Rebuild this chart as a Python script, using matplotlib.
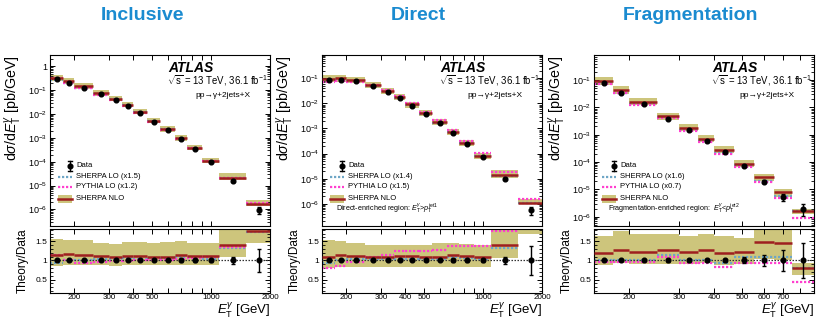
import numpy as np
import matplotlib
matplotlib.use("Agg")
import matplotlib.pyplot as plt
from matplotlib.ticker import FixedLocator, NullFormatter, FuncFormatter, LogLocator, MultipleLocator

plt.rcParams['font.family'] = ['Liberation Sans', 'DejaVu Sans']
plt.rcParams['mathtext.fontset'] = 'custom'
plt.rcParams['mathtext.rm'] = 'Liberation Sans'
plt.rcParams['mathtext.it'] = 'Liberation Sans:italic'
plt.rcParams['mathtext.bf'] = 'Liberation Sans:bold'
plt.rcParams['mathtext.sf'] = 'Liberation Sans'

# ---------------- data ----------------
edges_main = [150, 175, 200, 250, 300, 350, 400, 470, 550, 650, 750, 900, 1100, 1500, 2000]
edges_frag = [150, 175, 200, 250, 300, 350, 400, 470, 550, 650, 750, 900]

# Inclusive
incl_data = [0.29, 0.204, 0.127, 0.0678, 0.0394, 0.0222, 0.0111, 0.00485, 0.00212, 8.7e-4, 3.4e-4, 1.0e-4, 1.5e-5, 9.5e-7]
incl_err = [0.02, 0.02, 0.02, 0.02, 0.02, 0.02, 0.02, 0.02, 0.02, 0.03, 0.03, 0.05, 0.10, 0.31]
incl_nlo = [1.13, 1.16, 1.15, 1.12, 1.09, 1.12, 1.12, 1.10, 1.10, 1.15, 1.12, 1.11, 1.39, 1.78]
incl_nlo_up = [1.56, 1.54, 1.52, 1.46, 1.43, 1.48, 1.48, 1.46, 1.48, 1.50, 1.46, 1.46, 2.30, 2.60]
incl_nlo_dn = [0.86, 0.87, 0.87, 0.87, 0.86, 0.87, 0.87, 0.87, 0.87, 0.87, 0.87, 0.87, 1.10, 1.45]
incl_sherpa_lo = [0.93, 1.00, 1.02, 1.05, 1.04, 1.06, 1.05, 1.05, 1.06, 1.08, 1.06, 1.05, 1.33, 1.73]
incl_pythia_lo = [1.14, 1.02, 0.93, 0.97, 0.98, 0.98, 1.00, 1.00, 1.02, 1.05, 1.06, 1.10, 1.36, 1.90]

# Direct
dir_data = [0.0887, 0.0887, 0.0757, 0.049, 0.0291, 0.0161, 0.00815, 0.00377, 0.00164, 6.46e-4, 2.4e-4, 7.4e-5, 1.0e-5, 5.6e-7]
dir_err = [0.02, 0.02, 0.02, 0.02, 0.02, 0.02, 0.02, 0.02, 0.02, 0.03, 0.03, 0.04, 0.10, 0.37]
dir_nlo = [1.10, 1.13, 1.12, 1.10, 1.09, 1.12, 1.12, 1.09, 1.10, 1.15, 1.12, 1.10, 1.39, 2.00]
dir_nlo_up = [1.52, 1.50, 1.46, 1.41, 1.39, 1.41, 1.41, 1.39, 1.46, 1.46, 1.43, 1.41, 2.30, 2.80]
dir_nlo_dn = [0.80, 0.82, 0.83, 0.84, 0.84, 0.84, 0.84, 0.84, 0.84, 0.84, 0.84, 0.84, 1.06, 1.68]
dir_sherpa_lo = [0.93, 1.02, 1.03, 1.04, 1.03, 1.05, 1.05, 1.04, 1.05, 1.08, 1.06, 1.05, 1.32, 1.85]
dir_pythia_lo = [0.80, 0.86, 0.95, 1.10, 1.15, 1.24, 1.24, 1.25, 1.28, 1.37, 1.37, 1.37, 1.78, 2.70]

# Fragmentation
frag_data = [0.0767, 0.0335, 0.0131, 0.00379, 0.00144, 5.65e-4, 2.33e-4, 7.3e-5, 1.94e-5, 5.3e-6, 2.0e-6]
frag_err = [0.02, 0.02, 0.02, 0.03, 0.03, 0.03, 0.05, 0.08, 0.15, 0.28, 0.45]
frag_nlo = [1.19, 1.28, 1.23, 1.26, 1.23, 1.28, 1.19, 1.21, 1.47, 1.46, 0.80]
frag_nlo_up = [1.63, 1.76, 1.68, 1.68, 1.65, 1.70, 1.63, 1.59, 1.95, 1.95, 0.93]
frag_nlo_dn = [0.89, 0.93, 0.91, 0.91, 0.91, 0.93, 0.89, 0.91, 1.04, 1.02, 0.62]
frag_sherpa_lo = [1.02, 1.02, 1.00, 1.15, 1.02, 1.00, 0.93, 1.10, 1.09, 1.10, 0.80]
frag_pythia_lo = [0.97, 0.97, 0.95, 1.10, 0.93, 0.93, 0.84, 0.93, 0.93, 0.93, 0.45]

titles = ["Inclusive", "Direct", "Fragmentation"]
sherpa_labels = ["SHERPA LO (x1.5)", "SHERPA LO (x1.4)", "SHERPA LO (x1.6)"]
pythia_labels = ["PYTHIA LO (x1.2)", "PYTHIA LO (x1.5)", "PYTHIA LO (x0.7)"]
region_labels = [None,
                 r"Direct-enriched region: $E_{\mathrm{T}}^{\gamma}$>$p_{\mathrm{T}}^{\mathrm{jet1}}$",
                 r"Fragmentation-enriched region:  $E_{\mathrm{T}}^{\gamma}$<$p_{\mathrm{T}}^{\mathrm{jet2}}$"]
xticks_lab = [[200, 300, 400, 500, 1000, 2000], [200, 300, 400, 500, 1000, 2000], [200, 300, 400, 500, 600, 700]]
xlims = [(150, 2000), (150, 2000), (150, 900)]
ylims_top = [(2e-7, 3.0), (1.3e-7, 0.85), (4.6e-7, 0.82)]
ylim_ratio = (0.15, 1.82)

panels = [
    (edges_main, incl_data, incl_err, incl_nlo, incl_nlo_up, incl_nlo_dn, incl_sherpa_lo, incl_pythia_lo),
    (edges_main, dir_data, dir_err, dir_nlo, dir_nlo_up, dir_nlo_dn, dir_sherpa_lo, dir_pythia_lo),
    (edges_frag, frag_data, frag_err, frag_nlo, frag_nlo_up, frag_nlo_dn, frag_sherpa_lo, frag_pythia_lo),
]

# ---------------- style ----------------
BAND = '#cdc57c'
NLO_RED = '#9e1f1f'
BLUE = '#6ea6c6'
PINK = '#ff3fcf'
TITLE_BLUE = '#1a8bd0'
DOT = (0, (1.0, 0.8))

W, H = 816, 320
fig = plt.figure(figsize=(W / 100, H / 100), dpi=100)

lefts = [50, 322, 594]
aw = 220
top_y0, top_y1 = 55, 226
rat_y0, rat_y1 = 229, 293
title_x = [143, 418, 691]


def fr(x0, y0, x1, y1):
    return [x0 / W, 1 - y1 / H, (x1 - x0) / W, (y1 - y0) / H]


def style_axis(ax, labels_x, xt, xl):
    ax.set_xscale('log')
    ax.set_xlim(*xl)
    allt = [t for t in [200, 300, 400, 500, 600, 700, 800, 900, 1000, 2000] if xl[0] <= t <= xl[1]]
    ax.xaxis.set_major_locator(FixedLocator(allt))
    ax.xaxis.set_minor_locator(FixedLocator([]))
    if labels_x:
        ax.xaxis.set_major_formatter(FuncFormatter(lambda v, p: f"{int(round(v))}" if int(round(v)) in xt else ""))
    else:
        ax.xaxis.set_major_formatter(NullFormatter())
    ax.tick_params(which='both', direction='in', top=True, right=True, pad=2)
    ax.tick_params(axis='x', labelsize=5.8, pad=1)
    ax.tick_params(axis='y', labelsize=6.5)
    ax.tick_params(which='major', length=3.5, width=0.7)
    ax.tick_params(which='minor', length=2, width=0.6)
    for s in ax.spines.values():
        s.set_linewidth(0.8)


for i, (edges, data, err, nlo, up, dn, slo, plo) in enumerate(panels):
    edges = np.array(edges, dtype=float)
    data = np.array(data)
    err = np.array(err)
    nlo = np.array(nlo); up = np.array(up); dn = np.array(dn)
    slo = np.array(slo); plo = np.array(plo)
    lo_e, hi_e = edges[:-1], edges[1:]
    centers = 0.5 * (lo_e + hi_e)
    widths = hi_e - lo_e
    L = lefts[i]

    # ---------- top panel ----------
    ax = fig.add_axes(fr(L, top_y0, L + aw, top_y1))
    ax.bar(lo_e, data * (up - dn), width=widths, bottom=data * dn, align='edge',
           color=BAND, edgecolor='none', zorder=1)
    ax.hlines(data * slo, lo_e, hi_e, colors=BLUE, linestyles=DOT, lw=1.6, zorder=2)
    ax.hlines(data * plo, lo_e, hi_e, colors=PINK, linestyles=DOT, lw=1.6, zorder=2)
    ax.hlines(data * nlo, lo_e, hi_e, colors=NLO_RED, lw=1.8, zorder=3)
    ax.errorbar(centers, data, yerr=data * err, fmt='o', color='black', ms=3.4,
                elinewidth=1.0, capsize=1.3, capthick=1.0, zorder=5)
    ax.set_yscale('log')
    ax.set_ylim(*ylims_top[i])
    style_axis(ax, False, xticks_lab[i], xlims[i])
    ax.yaxis.set_major_locator(LogLocator(base=10, numticks=20))
    ax.yaxis.set_minor_locator(LogLocator(base=10, subs=np.arange(2, 10), numticks=20))
    ax.yaxis.set_major_formatter(FuncFormatter(
        lambda v, p: "1" if abs(v - 1) < 1e-9 else r"$10^{%d}$" % int(round(np.log10(v)))))
    ax.yaxis.set_minor_formatter(NullFormatter())
    ax.set_ylabel(r"d$\sigma$/d$E_{\mathrm{T}}^{\gamma}$ [pb/GeV]", fontsize=10.3, loc='top')
    ax.yaxis.set_label_coords(-0.118, 1.0)

    # labels
    ax.text(0.536, 0.925, "ATLAS", transform=ax.transAxes, fontsize=10, fontweight='bold',
            fontstyle='italic', va='center', ha='left')
    ax.text(0.532, 0.853, r"$\sqrt{\mathrm{s}}$ = 13 TeV, 36.1 fb$^{-1}$", transform=ax.transAxes,
            fontsize=6.9, va='center', ha='left')
    ax.text(0.66, 0.765, "pp\u2192\u03b3+2jets+X", transform=ax.transAxes,
            fontsize=6, va='center', ha='left')
    if region_labels[i]:
        ax.text(0.062, 0.10, region_labels[i], transform=ax.transAxes, fontsize=5.2,
                va='center', ha='left')

    # manual legend
    def px2ax(px, py):
        return ((px - L) / aw, (top_y1 - py) / (top_y1 - top_y0))
    hx0, hx1 = L + 8, L + 22
    rows = [165.7, 176.5, 187.0, 198.8]
    tx = 26 / aw
    # Data
    mx, my = px2ax(L + 20, rows[0])
    ax.plot([mx], [my], 'o', color='black', ms=3.4, transform=ax.transAxes, clip_on=False)
    d = 5.0 / (top_y1 - top_y0)
    ax.plot([mx, mx], [my - d, my + d], color='black', lw=1.0, transform=ax.transAxes)
    for yy in (my - d, my + d):
        ax.plot([mx - 0.007, mx + 0.007], [yy, yy], color='black', lw=1.0, transform=ax.transAxes)
    ax.text(tx, my, "Data", transform=ax.transAxes, fontsize=5.5, va='center', ha='left')
    # SHERPA LO
    x0a, ya = px2ax(hx0, rows[1]); x1a, _ = px2ax(hx1, rows[1])
    ax.plot([x0a, x1a], [ya, ya], color=BLUE, ls=DOT, lw=1.6, transform=ax.transAxes)
    ax.text(tx, ya, sherpa_labels[i], transform=ax.transAxes, fontsize=5.5, va='center', ha='left')
    # PYTHIA LO
    x0a, ya = px2ax(hx0, rows[2]); x1a, _ = px2ax(hx1, rows[2])
    ax.plot([x0a, x1a], [ya, ya], color=PINK, ls=DOT, lw=1.6, transform=ax.transAxes)
    ax.text(tx, ya, pythia_labels[i], transform=ax.transAxes, fontsize=5.5, va='center', ha='left')
    # SHERPA NLO
    x0a, ya = px2ax(hx0, rows[3]); x1a, _ = px2ax(hx1, rows[3])
    hb = 4.0 / (top_y1 - top_y0)
    ax.add_patch(plt.Rectangle((x0a, ya - hb), x1a - x0a, 2 * hb, transform=ax.transAxes,
                               color=BAND, lw=0))
    ax.plot([x0a, x1a], [ya, ya], color=NLO_RED, lw=1.8, transform=ax.transAxes)
    ax.text(tx, ya, "SHERPA NLO", transform=ax.transAxes, fontsize=5.5, va='center', ha='left')

    # ---------- ratio panel ----------
    rx = fig.add_axes(fr(L, rat_y0, L + aw, rat_y1))
    rx.bar(lo_e, up - dn, width=widths, bottom=dn, align='edge', color=BAND, edgecolor='none', zorder=1)
    rx.hlines(slo, lo_e, hi_e, colors=BLUE, linestyles=DOT, lw=1.6, zorder=2)
    rx.hlines(plo, lo_e, hi_e, colors=PINK, linestyles=DOT, lw=1.6, zorder=2)
    rx.hlines(nlo, lo_e, hi_e, colors=NLO_RED, lw=1.8, zorder=3)
    rx.axhline(1.0, color='#333333', ls=(0, (1.2, 1.2)), lw=0.9, zorder=4)
    rx.errorbar(centers, np.ones_like(data), yerr=err, fmt='o', color='black', ms=3.4,
                elinewidth=1.0, capsize=1.3, capthick=1.0, zorder=5)
    rx.set_ylim(*ylim_ratio)
    style_axis(rx, True, xticks_lab[i], xlims[i])
    rx.tick_params(axis='y', labelsize=6)
    rx.yaxis.set_major_locator(FixedLocator([0.5, 1.0, 1.5]))
    rx.yaxis.set_major_formatter(FuncFormatter(lambda v, p: "1" if abs(v - 1) < 1e-9 else f"{v:g}"))
    rx.yaxis.set_minor_locator(MultipleLocator(0.1))
    rx.set_ylabel("Theory/Data", fontsize=8.5)
    rx.yaxis.set_label_coords(-0.095, 0.5)
    rx.set_xlabel(r"$E_{\mathrm{T}}^{\gamma}$ [GeV]", fontsize=9.5)
    rx.xaxis.set_label_coords(1.0, -0.115)
    rx.xaxis.label.set_horizontalalignment('right')

    fig.text(title_x[i] / W, 1 - 15 / H, titles[i], color=TITLE_BLUE, fontsize=14,
             fontweight='bold', ha='center', va='center')

fig.savefig("out.png", dpi=100)
